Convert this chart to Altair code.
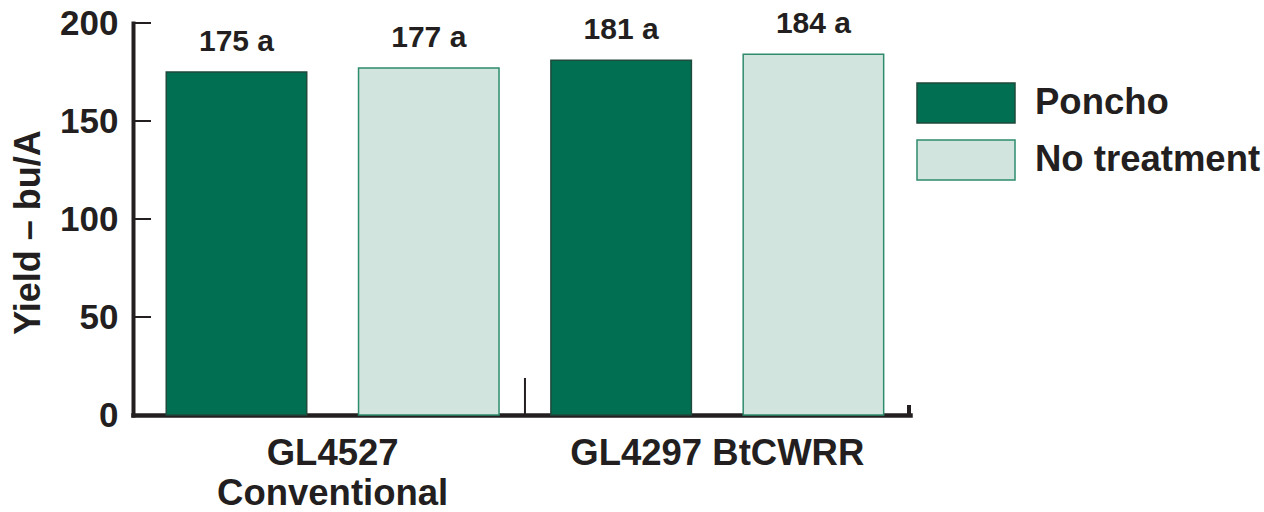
import altair as alt
import pandas as pd

# Hybrid names (second line shown under the first on the x axis)
varieties = ["GL4527", "GL4297 BtCWRR"]
variety_subtitles = ["Conventional", ""]
treatments = ["Poncho", "No treatment"]
# Yield (bu/A) per variety, in treatment order
yields = [[175, 177], [181, 184]]
letters = [["a", "a"], ["a", "a"]]
y_ticks = [0, 50, 100, 150, 200]

FONT = "Liberation Sans"
INK = "#231F20"
FILLS = ["#006F52", "#D2E4DE"]
EDGES = ["#1F4A3C", "#2E8C6E"]

rows = []
for v, vals, lets in zip(varieties, yields, letters):
    for t, y, l in zip(treatments, vals, lets):
        rows.append({"variety": v, "treatment": t, "yield": y, "label": f"{y} {l}"})
df = pd.DataFrame(rows)

# two-line axis labels built from the name lists
label_expr = " : ".join(
    [f"datum.value == '{v}' ? {[v, s] if s else [v]}" for v, s in zip(varieties, variety_subtitles)]
    + ["datum.label"]
)

x_enc = alt.X(
    "variety:N",
    sort=varieties,
    scale=alt.Scale(paddingInner=0, paddingOuter=0.01, align=0.95),
    axis=alt.Axis(
        title=None,
        labelExpr=label_expr,
        labelAngle=0,
        labelFont=FONT,
        labelFontSize=36.5,
        labelFontWeight="bold",
        labelColor=INK,
        labelPadding=20,
        labelLineHeight=40,
        labelBaseline="top",
        labelLimit=0,
        ticks=False,
        tickSize=0,
        domainColor=INK,
        domainWidth=4.5,
        domainCap="square",
    ),
)
xoff_enc = alt.XOffset(
    "treatment:N", sort=treatments, scale=alt.Scale(paddingInner=0.2694, paddingOuter=0.1349)
)
y_enc = alt.Y(
    "yield:Q",
    scale=alt.Scale(domain=[0, 200], nice=False),
    axis=alt.Axis(
        title="Yield – bu/A",
        titleFont=FONT,
        titleFontSize=36,
        titleFontWeight="bold",
        titleColor=INK,
        titleAngle=270,
        titleAlign="center",
        titleBaseline="middle",
        titleX=-105,
        titleY=209,
        values=y_ticks,
        labelFont=FONT,
        labelFontSize=35,
        labelFontWeight="bold",
        labelColor=INK,
        labelPadding=15,
        ticks=False,
        tickSize=0,
        grid=False,
        domainColor=INK,
        domainWidth=4,
        domainCap="square",
    ),
)

# wide swatches: unit box scaled by sqrt(symbolSize)=66 -> 98 x 40 px
legend = alt.Legend(
    title=None,
    orient="none",
    legendX=799,
    legendY=46,
    symbolType="M-1.485,-0.606L1.485,-0.606L1.485,0.606L-1.485,0.606Z",
    symbolSize=4356,
    symbolStrokeWidth=1.5,
    symbolOpacity=1,
    labelFont=FONT,
    labelFontSize=36.5,
    labelFontWeight="bold",
    labelColor=INK,
    labelOffset=35,
    labelLimit=0,
    rowPadding=0,
)

bars = alt.Chart(df).mark_bar(strokeWidth=1.5, opacity=1).encode(
    x=x_enc,
    xOffset=xoff_enc,
    y=y_enc,
    color=alt.Color("treatment:N", sort=treatments,
                    scale=alt.Scale(domain=treatments, range=FILLS), legend=legend),
    stroke=alt.Stroke("treatment:N", sort=treatments,
                      scale=alt.Scale(domain=treatments, range=EDGES), legend=legend),
)

labels = alt.Chart(df).mark_text(
    baseline="bottom", dy=-15, font=FONT, fontSize=30, fontWeight="bold", color=INK
).encode(x=x_enc, xOffset=xoff_enc, y=y_enc, text="label:N")

# inward ticks on the value axis
ytick_marks = alt.Chart(pd.DataFrame({"yield": y_ticks})).mark_rule(
    color=INK, strokeWidth=2
).encode(y=y_enc, x=alt.value(0), x2=alt.value(18))

# divider between the two hybrids, and the closing tick at the axis end
divider = alt.Chart(pd.DataFrame({"variety": varieties[1:]})).mark_rule(
    color=INK, strokeWidth=2
).encode(x=alt.X("variety:N", sort=varieties, bandPosition=0), y=alt.value(392), y2=alt.value(355))

end_tick = alt.Chart(pd.DataFrame({"variety": varieties[-1:]})).mark_rule(
    color=INK, strokeWidth=4
).encode(x=alt.value(776), y=alt.value(392), y2=alt.value(382))

chart = (
    alt.layer(bars, labels, ytick_marks, divider, end_tick)
    .properties(
        width=777,
        height=392,
        autosize=alt.AutoSizeParams(type="none"),
        padding={"left": 133, "top": 23, "right": 354, "bottom": 97},
        background="white",
    )
    .configure_view(stroke=None)
)

chart.save("out.html", embed_options={"renderer": "svg", "actions": False})
